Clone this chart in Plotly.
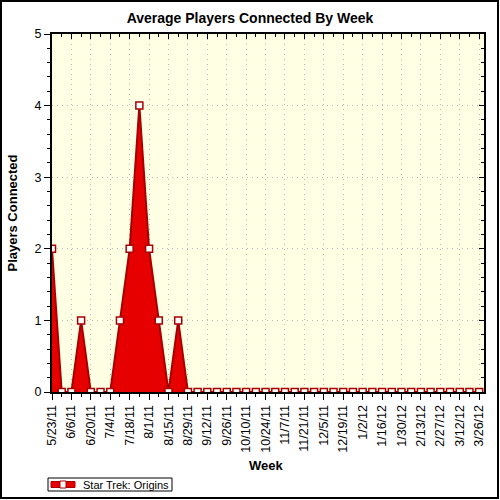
import plotly.graph_objects as go

# weekly data, 5/23/11 .. 3/26/12
weeks = [
    "2011-05-23", "2011-05-30", "2011-06-06", "2011-06-13", "2011-06-20",
    "2011-06-27", "2011-07-04", "2011-07-11", "2011-07-18", "2011-07-25",
    "2011-08-01", "2011-08-08", "2011-08-15", "2011-08-22", "2011-08-29",
    "2011-09-05", "2011-09-12", "2011-09-19", "2011-09-26", "2011-10-03",
    "2011-10-10", "2011-10-17", "2011-10-24", "2011-10-31", "2011-11-07",
    "2011-11-14", "2011-11-21", "2011-11-28", "2011-12-05", "2011-12-12",
    "2011-12-19", "2011-12-26", "2012-01-02", "2012-01-09", "2012-01-16",
    "2012-01-23", "2012-01-30", "2012-02-06", "2012-02-13", "2012-02-20",
    "2012-02-27", "2012-03-05", "2012-03-12", "2012-03-19", "2012-03-26",
]
players = [
    2, 0, 0, 1, 0,
    0, 0, 1, 2, 4,
    2, 1, 0, 1, 0,
    0, 0, 0, 0, 0,
    0, 0, 0, 0, 0,
    0, 0, 0, 0, 0,
    0, 0, 0, 0, 0,
    0, 0, 0, 0, 0,
    0, 0, 0, 0, 0,
]
tick_dates = weeks[::2]
tick_labels = [
    "5/23/11", "6/6/11", "6/20/11", "7/4/11", "7/18/11", "8/1/11", "8/15/11",
    "8/29/11", "9/12/11", "9/26/11", "10/10/11", "10/24/11", "11/7/11",
    "11/21/11", "12/5/11", "12/19/11", "1/2/12", "1/16/12", "1/30/12",
    "2/13/12", "2/27/12", "3/12/12", "3/26/12",
]
series_name = "Star Trek: Origins"

FONT = "Arial, Liberation Sans, sans-serif"
W, H = 500, 500
ML, MR, MT, MB = 52, 16, 34, 108
PW, PH = W - ML - MR, H - MT - MB
x_range = ["2011-05-23", "2012-03-29 12:00"]
WEEK_MS = 7 * 86400000
RED, DARK = "#E60000", "#A80000"


def px(x):  # pixel column -> paper x
    return (x - ML) / PW


def py(y):  # pixel row (from top) -> paper y
    return (H - MB - y) / PH


fig = go.Figure()
fig.add_trace(go.Scatter(
    x=weeks, y=players, name=series_name, showlegend=False,
    mode="lines+markers", fill="tozeroy", fillcolor=RED,
    line=dict(color=DARK, width=2),
    marker=dict(symbol="square", size=7, color="white",
                line=dict(color=DARK, width=1.5)),
))

grid = dict(showgrid=True, gridcolor="#B8B8B8", griddash="1px,4px", gridwidth=1)
fig.update_layout(
    width=W, height=H,
    margin=dict(l=ML, r=MR, t=MT, b=MB, autoexpand=False),
    paper_bgcolor="white", plot_bgcolor="#FFFFE4",
    font=dict(family=FONT, size=12, color="black"),
    title=dict(text="<b>Average Players Connected By Week</b>",
               x=0.5, xanchor="center", y=1 - 18 / H, yanchor="middle",
               font=dict(size=14)),
    showlegend=False,
    xaxis=dict(type="date", range=x_range, automargin=False,
               tickvals=tick_dates, ticktext=tick_labels, tickangle=-90,
               tickfont=dict(size=12.5),
               ticks="outside", ticklen=6, tickcolor="black",
               showline=True, linecolor="black", linewidth=2,
               minor=dict(dtick=WEEK_MS, tick0="2011-05-23", ticks="outside",
                          ticklen=3, tickcolor="black"),
               zeroline=False, **grid),
    yaxis=dict(range=[0, 5], dtick=1, automargin=False,
               tickfont=dict(size=12.5),
               ticks="outside", ticklen=6, tickcolor="black",
               showline=True, linecolor="black", linewidth=2,
               minor=dict(dtick=0.2, ticks="outside", ticklen=3, tickcolor="black"),
               title=dict(text="<b>Players Connected</b>", standoff=14, font=dict(size=13)),
               zeroline=False, **grid),
    xaxis2=dict(type="date", range=x_range, overlaying="x", side="top",
                tickvals=tick_dates, showticklabels=False,
                ticks="inside", ticklen=5, tickcolor="black",
                showline=True, linecolor="black", linewidth=1.5, showgrid=False,
                minor=dict(dtick=WEEK_MS, tick0="2011-05-23", ticks="inside",
                           ticklen=3, tickcolor="black")),
    yaxis2=dict(range=[0, 5], dtick=1, overlaying="y", side="right",
                showticklabels=False, ticks="inside", ticklen=5, tickcolor="black",
                showline=True, linecolor="black", linewidth=1.5, showgrid=False,
                zeroline=False,
                minor=dict(dtick=0.2, ticks="inside", ticklen=3, tickcolor="black")),
)

# invisible trace to bring up the mirrored axes
fig.add_trace(go.Scatter(x=[weeks[0]], y=[players[0]], xaxis="x2", yaxis="y2",
                         mode="markers", marker=dict(opacity=0), showlegend=False,
                         hoverinfo="skip"))

# x axis title
fig.add_annotation(text="<b>Week</b>", xref="paper", yref="paper",
                   x=px(266), y=py(465), xanchor="center", yanchor="middle",
                   showarrow=False, font=dict(size=13))

# hand-made compact legend
fig.add_shape(type="rect", xref="paper", yref="paper",
              x0=px(48), x1=px(172), y0=py(491), y1=py(478),
              line=dict(color="black", width=1), fillcolor="white")
fig.add_shape(type="rect", xref="paper", yref="paper",
              x0=px(51), x1=px(75), y0=py(487.5), y1=py(481.5),
              line=dict(color=DARK, width=1), fillcolor=RED)
fig.add_shape(type="rect", xref="paper", yref="paper",
              x0=px(60), x1=px(66), y0=py(488), y1=py(481),
              line=dict(color=DARK, width=1), fillcolor="white")
fig.add_annotation(text=series_name, xref="paper", yref="paper",
                   x=px(81), y=py(484.5), xanchor="left", yanchor="middle",
                   showarrow=False, font=dict(size=11))

# outer frame of the image
fig.add_shape(type="rect", xref="paper", yref="paper", layer="above",
              x0=-(ML - 1) / PW, x1=1 + (MR - 2) / PW,
              y0=-(MB - 2) / PH, y1=1 + (MT - 1) / PH,
              line=dict(color="black", width=2))

fig.write_html("out.html", config={"displayModeBar": False},
               post_script="document.body.style.margin='0';")
